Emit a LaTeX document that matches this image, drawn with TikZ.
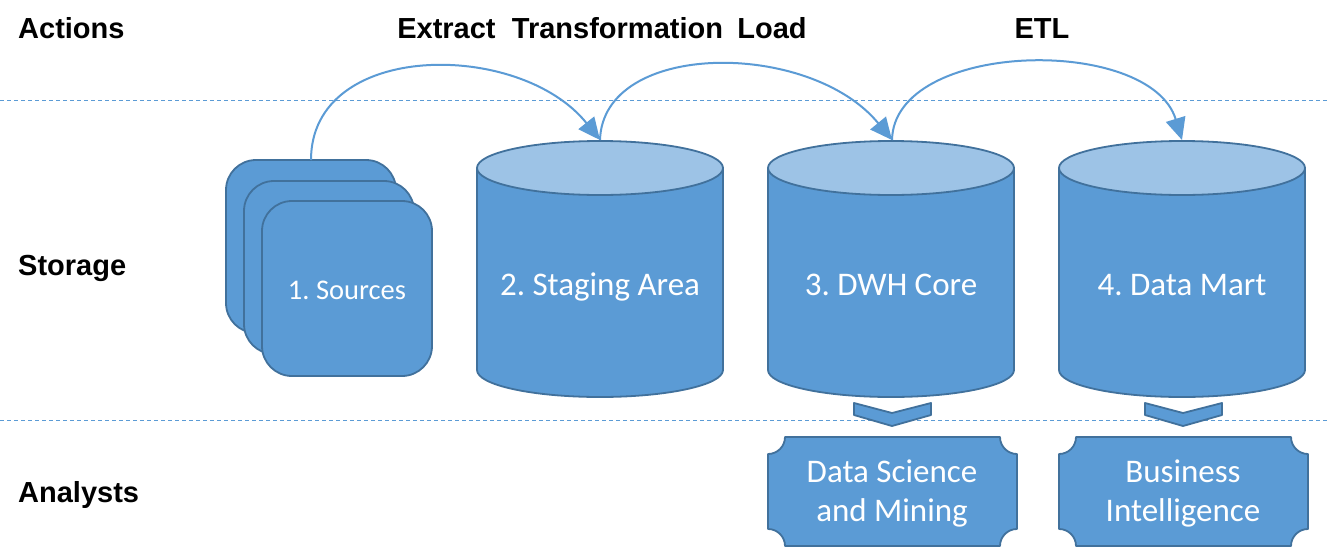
\documentclass[tikz,border=0pt]{standalone}
\usepackage{fontspec}
\setmainfont{Liberation Sans}
\newfontfamily\calib{Carlito}
\usetikzlibrary{arrows.meta}
\frenchspacing
\definecolor{fillb}{HTML}{5B9BD5}
\definecolor{topb}{HTML}{9DC3E6}
\definecolor{edgeb}{HTML}{41719C}
\tikzset{
  shapebox/.style={fill=fillb, draw=edgeb, line width=1.8pt, line join=round},
  toplid/.style={fill=topb, draw=edgeb, line width=1.8pt},
  guide/.style={draw=fillb, line width=1pt, dash pattern=on 4pt off 3pt},
  rowlabel/.style={font=\fontsize{29}{34}\selectfont\bfseries, anchor=base west, inner sep=0pt},
  steplabel/.style={font=\fontsize{29}{34}\selectfont\bfseries, anchor=base, inner sep=0pt},
  boxtext/.style={font=\calib\fontsize{33}{39}\selectfont, text=white, align=center, inner sep=0pt},
  srctext/.style={font=\calib\fontsize{28.5}{32}\selectfont, text=white, inner sep=0pt},
  flow/.style={draw=fillb, line width=2pt, -{Triangle[length=22pt,width=20pt]}},
}
\newcommand\drawcyl[1]{%
  \path[shapebox] (#1-123,168) -- (#1-123,370) arc[start angle=180,end angle=0,x radius=123,y radius=27] -- (#1+123,168) -- cycle;
  \path[toplid] (#1,168) ellipse[x radius=123,y radius=27];
}
\newcommand\plaque[4]{%
  \path[shapebox] (#1+17,#2) -- (#3-17,#2) arc[start angle=180,end angle=90,radius=17]
    -- (#3,#4-17) arc[start angle=270,end angle=180,radius=17]
    -- (#1+17,#4) arc[start angle=0,end angle=-90,radius=17]
    -- (#1,#2+17) arc[start angle=90,end angle=0,radius=17] -- cycle;
}
\newcommand\chevron[1]{%
  \path[shapebox] (#1-38,403) -- (#1,413) -- (#1+39,403) -- (#1+39,415) -- (#1,426) -- (#1-38,415) -- cycle;
}
\begin{document}
\begin{tikzpicture}[x=1pt,y=-1pt]
\path[use as bounding box, fill=white] (0,0) rectangle (1329,552);
% guide lines
\draw[guide] (0,100) -- (1329,100);
\draw[guide] (0,420) -- (1329,420);
% row labels
\node[rowlabel] (lact) at (18,38) {Actions};
\node[rowlabel] (lsto) at (18,275) {Storage};
\node[rowlabel] (lana) at (18,502) {Analysts};
% step labels
\node[steplabel] (lext) at (446.5,38) {Extract};
\node[steplabel] (ltra) at (617.5,38) {Transformation};
\node[steplabel] (lload) at (772,38) {Load};
\node[steplabel] (letl) at (1042,38) {ETL};
% sources
\path[shapebox] (226,160) [rounded corners=30pt] rectangle (396,333);
\path[shapebox] (244,181) [rounded corners=30pt] rectangle (414,354);
\path[shapebox] (262,201) [rounded corners=30pt] rectangle (432,376);
\node[srctext] (src) at (347,290) {1. Sources};
% cylinders
\drawcyl{600}
\drawcyl{891}
\drawcyl{1182}
\node[boxtext] (stg) at (600,287) {2. Staging Area};
\node[boxtext] (dwh) at (891,285) {3. DWH Core};
\node[boxtext] (mart) at (1182,285) {4. Data Mart};
% chevrons
\chevron{892}
\chevron{1183}
% analyst plaques
\plaque{768}{437}{1017}{546}
\plaque{1059}{437}{1308}{546}
\node[boxtext] (dsm) at (892,493) {Data Science\\and Mining};
\node[boxtext] (bi) at (1183,493) {Business\\Intelligence};
% connectors
\coordinate (srctop) at (311,160);
\coordinate (stgtop) at (600,140);
\coordinate (dwhtop) at (892,140);
\coordinate (marttop) at (1182,140);
\draw[flow] (srctop) .. controls (311,40) and (520,40) .. (stgtop);
\draw[flow] (stgtop) .. controls (603,40) and (810,40) .. (dwhtop);
\draw[flow] (dwhtop) .. controls (894,40) and (1150,35) .. (marttop);
\end{tikzpicture}
\end{document}
